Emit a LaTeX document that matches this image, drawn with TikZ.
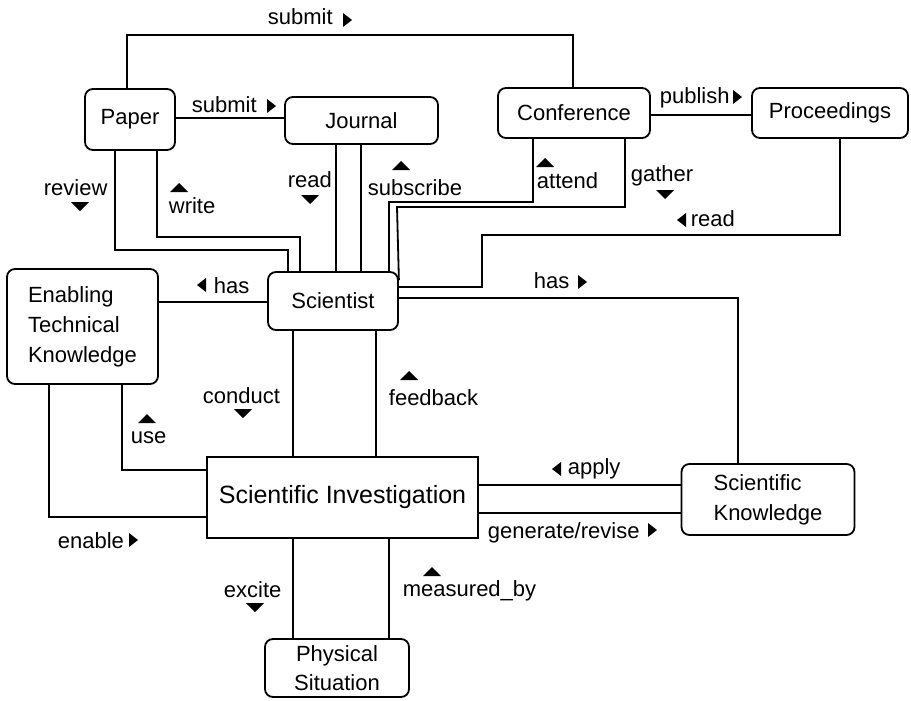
\documentclass[tikz,border=0pt]{standalone}
\usepackage{fontspec}
\setmainfont{Liberation Sans}

\begin{document}
\begin{tikzpicture}[
    x=1pt, y=-1pt, line width=1.8pt,
    every node/.style={font=\fontsize{22}{29}\selectfont},
    box/.style={draw, rounded corners=8pt, inner sep=0pt, align=center},
    lbl/.style={inner sep=0pt, anchor=base west},
    triup/.pic={\fill (-9,4) -- (9,4) -- (0,-5) -- cycle;},
    tridown/.pic={\fill (-9,-4) -- (9,-4) -- (0,5) -- cycle;},
    triright/.pic={\fill (-4,-7) -- (-4,7) -- (5,0) -- cycle;},
    trileft/.pic={\fill (4,-7) -- (4,7) -- (-5,0) -- cycle;}
]
\useasboundingbox (0,0) rectangle (911,701);

% concepts
\node[box, minimum width=90pt, minimum height=61pt] (paper) at (130,119.5) {Paper};
\node[box, minimum width=153pt, minimum height=47pt] (journal) at (361.5,120.5) {Journal};
\node[box, minimum width=152pt, minimum height=50pt] (conference) at (574,113) {Conference};
\node[box, minimum width=156pt, minimum height=50pt] (proceedings) at (830,113) {Proceedings};
\node[box, minimum width=130pt, minimum height=58pt] (scientist) at (333,301) {Scientist};
\node[box, minimum width=151pt, minimum height=115pt, align=left,
      font=\fontsize{22}{30}\selectfont] (etk) at (82.5,326.5)
    {Enabling\\Technical\\Knowledge};
\node[box, rounded corners=0pt, minimum width=271pt, minimum height=81pt,
      font=\fontsize{25}{30}\selectfont] (si) at (342.5,497.5)
    {Scientific Investigation};
\node[box, minimum width=173pt, minimum height=71pt, align=left,
      font=\fontsize{22}{30}\selectfont] (sk) at (768,499.5)
    {Scientific\\Knowledge};
\node[box, minimum width=144pt, minimum height=58pt] (ps) at (337,668)
    {Physical\\Situation};

% relations
\draw (paper.north -| 127,0) |- (573,35) -- (conference.north -| 573,0);
\draw (paper.east |- 0,118) -- (journal.west |- 0,118);
\draw (paper.south -| 115,0) |- (288,250) -- (scientist.north -| 288,0);
\draw (paper.south -| 157,0) |- (300,237) -- (scientist.north -| 300,0);
\draw (journal.south -| 336,0) -- (scientist.north -| 336,0);
\draw (journal.south -| 361,0) -- (scientist.north -| 361,0);
\draw (conference.south -| 533,0) |- (389,202) -- (scientist.north -| 389,0);
\draw (conference.south -| 625,0) |- (397,207) -- ([yshift=-9pt]scientist.north east);
\draw (conference.east |- 0,115) -- (proceedings.west |- 0,115);
\draw (proceedings.south -| 840,0) |- (482,235) |- (scientist.east |- 0,287);
\draw (scientist.east |- 0,298) -| (sk.north -| 738,0);
\draw (etk.east |- 0,302) -- (scientist.west |- 0,302);
\draw (etk.south -| 122,0) |- (si.west |- 0,470);
\draw (etk.south -| 49,0) |- (si.west |- 0,517);
\draw (scientist.south -| 293,0) -- (si.north -| 293,0);
\draw (scientist.south -| 376,0) -- (si.north -| 376,0);
\draw (si.south -| 293,0) -- (ps.north -| 293,0);
\draw (si.south -| 389,0) -- (ps.north -| 389,0);
\draw (si.east |- 0,485) -- (sk.west |- 0,485);
\draw (si.east |- 0,513) -- (sk.west |- 0,513);

% relation names
\node[lbl] (lsubmita) at (267,25) {submit};
\pic at (347,20) {triright};
\node[lbl] (lsubmitb) at (191,113) {submit};
\pic at (271,106) {triright};
\node[lbl] (lreview) at (43,195) {review};
\pic at (80,206) {tridown};
\node[lbl] (lwrite) at (168,213) {write};
\pic at (179,188) {triup};
\node[lbl] (lreada) at (287,187) {read};
\pic at (310,199) {tridown};
\node[lbl] (lsubscribe) at (367,195) {subscribe};
\pic at (401,166) {triup};
\node[lbl] (lattend) at (536,188) {attend};
\pic at (545,163) {triup};
\node[lbl] (lpublish) at (659,103) {publish};
\pic at (737,97) {triright};
\node[lbl] (lgather) at (630,181) {gather};
\pic at (665,194) {tridown};
\node[lbl] (lreadb) at (690,226) {read};
\pic at (682,220) {trileft};
\node[lbl] (lhasa) at (213,293) {has};
\pic at (202,285) {trileft};
\node[lbl] (lhasb) at (533,288) {has};
\pic at (582,282) {triright};
\node[lbl] (lconduct) at (202,403) {conduct};
\pic at (243,413) {tridown};
\node[lbl] (lfeedback) at (388,405) {feedback};
\pic at (409,376) {triup};
\node[lbl] (luse) at (130,443) {use};
\pic at (147,419) {triup};
\node[lbl] (lenable) at (57,548) {enable};
\pic at (133,540) {triright};
\node[lbl] (lapply) at (567,474) {apply};
\pic at (557,469) {trileft};
\node[lbl] (lgenerate) at (487,538) {generate/revise};
\pic at (652,530) {triright};
\node[lbl] (lexcite) at (223,597) {excite};
\pic at (255,607) {tridown};
\node[lbl] (lmeasured) at (402,596) {measured\_by};
\pic at (432,572) {triup};

\end{tikzpicture}
\end{document}
